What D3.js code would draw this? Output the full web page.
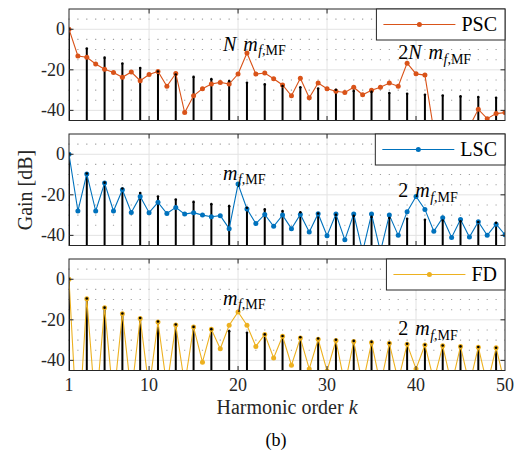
<!DOCTYPE html>
<html>
<head>
<meta charset="utf-8">
<script src="https://cdn.jsdelivr.net/npm/d3@7"></script>
<style>
body { margin: 0; background: #fff; }
</style>
</head>
<body>
<svg id="chart" width="521" height="453" font-family="'Liberation Serif', 'DejaVu Serif', serif"></svg>
<script>
var harmonicOrder = [1,2,3,4,5,6,7,8,9,10,11,12,13,14,15,16,17,18,19,20,21,22,23,24,25,
    26,27,28,29,30,31,32,33,34,35,36,37,38,39,40,41,42,43,44,45,46,47,48,49,50];

// black stems (reference spectrum), odd harmonics only
var stemOrder = [1,3,5,7,9,11,13,15,17,19,21,23,25,27,29,31,33,35,37,39,41,43,45,47,49];
var stemGain = [0,-9.5,-14,-16.9,-19.1,-20.8,-22.3,-23.5,-24.6,-25.6,-26.4,-27.2,-28,
    -28.6,-29.2,-29.8,-30.4,-30.9,-31.4,-31.8,-32.3,-32.7,-33.1,-33.4,-33.8];

var pscGain = [0,-13.2,-13.8,-17.1,-19.7,-21.3,-23.7,-21.1,-25.4,-22.3,
    -20.8,-28.1,-21.8,-41.1,-32.8,-29.3,-27,-26.2,-27,-22.1,
    -11.7,-22.1,-21.6,-24.4,-27.5,-32.8,-24.2,-33.8,-26.5,-29.3,
    -30.6,-31.2,-28.6,-32.3,-30.1,-28.6,-26.5,-28.1,-16.7,-22,
    -22.6,-50,-60,-60,-60,-48,-39.5,-44.1,-41.6,-41.1];

var lscGain = [0,-28,-9.7,-28,-14.2,-28,-17.5,-28.7,-20.8,-28.8,
    -23.7,-29.2,-26.2,-29.5,-28.8,-30,-30.8,-30.3,-36.7,-14.7,
    -27,-34.2,-29.7,-35.5,-30,-36.7,-29.7,-38.3,-29.3,-40.2,
    -29.5,-42.2,-29.5,-48,-29.5,-48,-30,-40,-28.3,-20.8,
    -27.2,-38,-31.3,-41,-32.2,-40.8,-33.3,-40,-34.5,-39.7];

var fdGain = [0,-80,-9.6,-65,-14,-60,-17,-57,-19.3,-54,
    -21.1,-53,-22.5,-52,-23.6,-40.9,-24.7,-34.3,-22.7,-16.1,
    -22.7,-33.1,-27.2,-38.8,-28.1,-42.4,-29,-44.2,-29.6,-45.2,
    -30.2,-52,-30.7,-52,-31.2,-52,-31.6,-50,-32,-44.2,
    -32.4,-50,-32.8,-52,-33.1,-52,-33.5,-52,-33.8,-52];

var xTicks = [1,10,20,30,40,50];
var yTicks = [0,-20,-40];
var yMinor = [5,-5,-10,-15,-25,-30,-35];

var panels = [
    { name: 'PSC', color: '#D95319', gain: pscGain, top: 9,
      notes: [ { k: 18.3, g: -10.6, lead: 'N' }, { k: 38, g: -14.8, lead: '2N' } ] },
    { name: 'LSC', color: '#0072BD', gain: lscGain, top: 134,
      notes: [ { k: 18.3, g: -12.5, lead: '' }, { k: 38, g: -21.3, lead: '2' } ] },
    { name: 'FD', color: '#EDB120', gain: fdGain, top: 259,
      notes: [ { k: 18.3, g: -12.6, lead: '' }, { k: 38, g: -27.7, lead: '2' } ] }
];

var svg = d3.select('#chart');
var left = 69, right = 505, ph = 111.5;
var ink = '#262626';

var x = d3.scaleLinear().domain([1, 50]).range([left, right]);
var step = x(2) - x(1);

function drawPanel(p, i) {
    var y = d3.scaleLinear().domain([-45, 10]).range([p.top + ph, p.top]);
    var g = svg.append('g');

    g.append('clipPath').attr('id', 'clip' + i)
        .append('rect').attr('x', left).attr('y', p.top)
        .attr('width', right - left).attr('height', ph);

    // minor grid: dotted rows, dots land on every harmonic
    g.selectAll('.minor').data(yMinor).enter().append('line')
        .attr('x1', x(1) - 0.6).attr('x2', right)
        .attr('y1', function(d) { return y(d); })
        .attr('y2', function(d) { return y(d); })
        .attr('stroke', '#a0a0a0').attr('stroke-width', 1.1)
        .attr('stroke-dasharray', '1.2,' + (step - 1.2));

    // major grid
    g.selectAll('.gy').data(yTicks).enter().append('line')
        .attr('x1', left).attr('x2', right)
        .attr('y1', function(d) { return y(d); })
        .attr('y2', function(d) { return y(d); })
        .attr('stroke', '#e3e3e3').attr('stroke-width', 1);
    g.selectAll('.gx').data(xTicks.slice(1, -1)).enter().append('line')
        .attr('x1', function(d) { return x(d); })
        .attr('x2', function(d) { return x(d); })
        .attr('y1', p.top).attr('y2', p.top + ph)
        .attr('stroke', '#e3e3e3').attr('stroke-width', 1);

    var plot = g.append('g').attr('clip-path', 'url(#clip' + i + ')');

    plot.selectAll('.stem').data(stemOrder).enter().append('line')
        .attr('x1', function(d) { return x(d); })
        .attr('x2', function(d) { return x(d); })
        .attr('y1', y(-50))
        .attr('y2', function(d, j) { return y(stemGain[j]); })
        .attr('stroke', '#000').attr('stroke-width', 2);

    var line = d3.line()
        .x(function(d) { return x(d); })
        .y(function(d, j) { return y(p.gain[j]); });

    plot.append('path').datum(harmonicOrder)
        .attr('d', line)
        .attr('fill', 'none')
        .attr('stroke', p.color).attr('stroke-width', 1.1);

    plot.selectAll('.dot').data(harmonicOrder).enter().append('circle')
        .attr('cx', function(d) { return x(d); })
        .attr('cy', function(d, j) { return y(p.gain[j]); })
        .attr('r', 2.5)
        .attr('fill', p.color);

    plot.selectAll('.stemtop').data(stemOrder).enter().append('circle')
        .attr('cx', function(d) { return x(d); })
        .attr('cy', function(d, j) { return y(stemGain[j]); })
        .attr('r', 1.3)
        .attr('fill', '#000');

    // frame + inward ticks
    g.append('rect').attr('x', left).attr('y', p.top)
        .attr('width', right - left).attr('height', ph)
        .attr('fill', 'none').attr('stroke', ink).attr('stroke-width', 1);

    var tk = 4.5;
    xTicks.slice(1, -1).forEach(function(t) {
        g.append('line').attr('x1', x(t)).attr('x2', x(t))
            .attr('y1', p.top + ph).attr('y2', p.top + ph - tk)
            .attr('stroke', ink);
        g.append('line').attr('x1', x(t)).attr('x2', x(t))
            .attr('y1', p.top).attr('y2', p.top + tk)
            .attr('stroke', ink);
    });
    yTicks.forEach(function(t) {
        g.append('line').attr('x1', left).attr('x2', left + tk)
            .attr('y1', y(t)).attr('y2', y(t)).attr('stroke', ink);
        g.append('line').attr('x1', right).attr('x2', right - tk)
            .attr('y1', y(t)).attr('y2', y(t)).attr('stroke', ink);
    });

    g.selectAll('.ylab').data(yTicks).enter().append('text')
        .attr('x', left - 4)
        .attr('y', function(d) { return y(d); })
        .attr('dy', '0.34em')
        .attr('text-anchor', 'end')
        .attr('font-size', 18).attr('fill', ink)
        .text(function(d) { return String(d); });

    // annotations
    p.notes.forEach(function(n) {
        var t = g.append('text')
            .attr('x', x(n.k)).attr('y', y(n.g))
            .attr('font-size', 20).attr('fill', '#000');
        if (n.lead.indexOf('2') === 0) {
            t.append('tspan').text('2');
        }
        if (n.lead.indexOf('N') >= 0) {
            t.append('tspan').attr('font-style', 'italic').text('N');
        }
        t.append('tspan').attr('font-style', 'italic')
            .attr('dx', n.lead ? 7 : 0).text('m');
        t.append('tspan').attr('font-style', 'italic').attr('font-size', 14)
            .attr('dy', 4.5).attr('dx', 0.5).text('f');
        t.append('tspan').attr('font-size', 14).text(',MF');
    });

    // legend
    var lg = g.append('g');
    var box = lg.append('rect').attr('y', p.top).attr('height', 31)
        .attr('fill', '#fff').attr('stroke', ink).attr('stroke-width', 1);
    var lt = lg.append('text').attr('y', p.top + 21.5)
        .attr('font-size', 20).attr('fill', '#000')
        .text(p.name);
    var tw = lt.node().getComputedTextLength();
    var bx = right - (7 + 72 + 6 + tw + 8);
    box.attr('x', bx).attr('width', right - bx);
    lt.attr('x', bx + 7 + 72 + 6);
    lg.append('line').attr('x1', bx + 7).attr('x2', bx + 79)
        .attr('y1', p.top + 15.5).attr('y2', p.top + 15.5)
        .attr('stroke', p.color).attr('stroke-width', 1.1);
    lg.append('circle').attr('cx', bx + 43).attr('cy', p.top + 15.5)
        .attr('r', 2.5).attr('fill', p.color);
}

panels.forEach(drawPanel);

var bottom = panels[2].top + ph;

svg.selectAll('.xlab').data(xTicks).enter().append('text')
    .attr('x', function(d) { return x(d); })
    .attr('y', bottom + 20.5)
    .attr('text-anchor', 'middle')
    .attr('font-size', 18).attr('fill', ink)
    .text(function(d) { return d; });

var xl = svg.append('text')
    .attr('x', (left + right) / 2).attr('y', bottom + 43)
    .attr('text-anchor', 'middle')
    .attr('font-size', 20).attr('fill', ink);
xl.append('tspan').text('Harmonic order ');
xl.append('tspan').attr('font-style', 'italic').text('k');

svg.append('text')
    .attr('transform', 'translate(32,190) rotate(-90)')
    .attr('text-anchor', 'middle')
    .attr('font-size', 20).attr('fill', ink)
    .text('Gain [dB]');

svg.append('text')
    .attr('x', 276).attr('y', 446)
    .attr('text-anchor', 'middle')
    .attr('font-size', 18).attr('fill', '#000')
    .text('(b)');
</script>
</body>
</html>
